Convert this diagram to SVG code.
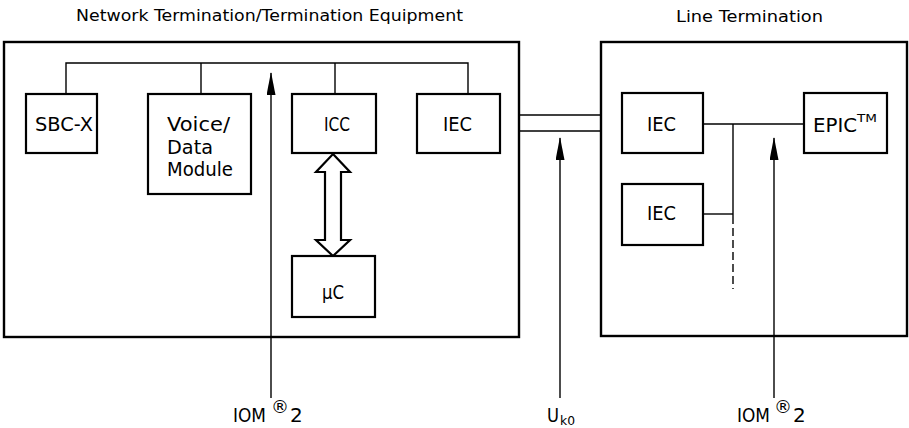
<svg xmlns="http://www.w3.org/2000/svg" width="909" height="428" viewBox="0 0 909 428">
<defs>
<style>
.box{fill:none;stroke:#000;stroke-width:2.4}
.blk{fill:#fff;stroke:#000;stroke-width:2.2}
.ln{fill:none;stroke:#000;stroke-width:1.4}
.t{font-family:"DejaVu Sans","Liberation Sans",sans-serif;fill:#000}
.ttl{font-size:16.5px}
.lbl{font-size:20px}
.reg{font-size:18px}
</style>
<marker id="ah" markerUnits="userSpaceOnUse" markerWidth="24" markerHeight="10" refX="22" refY="4.5" orient="auto">
<path d="M0,0 L23,4.5 L0,9 z" fill="#000"/>
</marker>
</defs>
<rect width="909" height="428" fill="#fff"/>

<text class="t ttl" x="76" y="21" textLength="387" lengthAdjust="spacingAndGlyphs">Network Termination/Termination Equipment</text>
<text class="t ttl" x="676" y="22" textLength="147" lengthAdjust="spacingAndGlyphs">Line Termination</text>

<g id="nt">
<rect class="box" x="4" y="42" width="515" height="295"/>
</g>
<g id="lt">
<rect class="box" x="601" y="42" width="306" height="294"/>
</g>

<g id="connectors">
<polyline class="ln" points="66,94 66,63 468,63 468,94"/>
<line class="ln" x1="201" y1="63" x2="201" y2="94"/>
<line class="ln" x1="335" y1="63" x2="335" y2="94"/>
<line class="ln" x1="519" y1="115" x2="601" y2="115"/>
<line class="ln" x1="519" y1="131" x2="601" y2="131"/>
<line class="ln" x1="703" y1="124" x2="804" y2="124"/>
<line class="ln" x1="733" y1="124" x2="733" y2="224"/>
<line class="ln" x1="703" y1="214" x2="733" y2="214"/>
<line class="ln" x1="733" y1="228" x2="733" y2="289" stroke-dasharray="8 4"/>
<polygon class="blk" points="333,154 350,172 341,172 341,240 350,240 333,256 316,240 325,240 325,172 316,172"/>
<line class="ln" x1="271" y1="398" x2="271" y2="73" marker-end="url(#ah)"/>
<line class="ln" x1="560" y1="398" x2="560" y2="138" marker-end="url(#ah)"/>
<line class="ln" x1="774" y1="398" x2="774" y2="138" marker-end="url(#ah)"/>
</g>

<g id="sbcx">
<rect class="blk" x="26" y="94" width="71" height="59"/>
<text class="t lbl" x="35" y="131" textLength="58" lengthAdjust="spacingAndGlyphs">SBC-X</text>
</g>
<g id="vdm">
<rect class="blk" x="148" y="94" width="103" height="100"/>
<text class="t lbl" x="167" y="131" textLength="63" lengthAdjust="spacingAndGlyphs">Voice/</text>
<text class="t lbl" x="167" y="154" textLength="46" lengthAdjust="spacingAndGlyphs">Data</text>
<text class="t lbl" x="167" y="176" textLength="66" lengthAdjust="spacingAndGlyphs">Module</text>
</g>
<g id="icc">
<rect class="blk" x="292" y="94" width="84" height="59"/>
<text class="t lbl" x="324" y="131" textLength="26" lengthAdjust="spacingAndGlyphs">ICC</text>
</g>
<g id="iec1">
<rect class="blk" x="417" y="94" width="83" height="59"/>
<text class="t lbl" x="443" y="131" textLength="29" lengthAdjust="spacingAndGlyphs">IEC</text>
</g>
<g id="uc">
<rect class="blk" x="292" y="256" width="83" height="61"/>
<text class="t lbl" x="322" y="299" textLength="22" lengthAdjust="spacingAndGlyphs">μC</text>
</g>
<g id="iec2">
<rect class="blk" x="622" y="93" width="81" height="60"/>
<text class="t lbl" x="647" y="131" textLength="29" lengthAdjust="spacingAndGlyphs">IEC</text>
</g>
<g id="iec3">
<rect class="blk" x="622" y="184" width="81" height="61"/>
<text class="t lbl" x="647" y="220" textLength="29" lengthAdjust="spacingAndGlyphs">IEC</text>
</g>
<g id="epic">
<rect class="blk" x="804" y="93" width="83" height="60"/>
<text class="t lbl" x="813" y="132" textLength="44" lengthAdjust="spacingAndGlyphs">EPIC</text>
<text class="t" x="857" y="122" font-size="11" textLength="20" lengthAdjust="spacingAndGlyphs">TM</text>
</g>

<g id="lbl-iom1">
<text class="t lbl" x="233" y="422" textLength="33" lengthAdjust="spacingAndGlyphs">IOM</text>
<text class="t reg" x="271" y="413">®</text>
<text class="t lbl" x="290" y="422">2</text>
</g>
<g id="lbl-uk0">
<text class="t lbl" x="547" y="422" textLength="12" lengthAdjust="spacingAndGlyphs">U</text>
<text class="t" x="560" y="425" font-size="13" textLength="15" lengthAdjust="spacingAndGlyphs">k0</text>
</g>
<g id="lbl-iom2">
<text class="t lbl" x="737" y="422" textLength="33" lengthAdjust="spacingAndGlyphs">IOM</text>
<text class="t reg" x="774" y="413">®</text>
<text class="t lbl" x="793" y="422">2</text>
</g>
</svg>
